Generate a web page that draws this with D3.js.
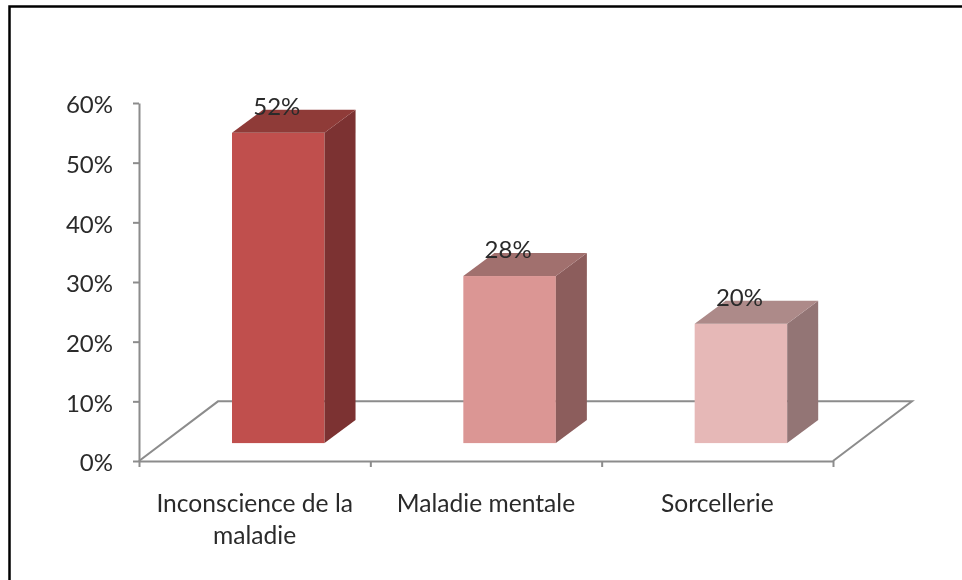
<!DOCTYPE html>
<html>
<head>
<meta charset="utf-8">
<title>Chart</title>
<script src="https://d3js.org/d3.v7.min.js"></script>
<style>
  html, body { margin: 0; padding: 0; background: #fff; }
  svg { display: block; }
  text { font-family: Lato, "Open Sans", sans-serif; fill: #2b2b2b; }
</style>
</head>
<body>
<div id="chart"></div>
<script>
var categories = [["Inconscience de la", "maladie"], ["Maladie mentale"], ["Sorcellerie"]];
var values = [52, 28, 20];
var yTicks = [0, 10, 20, 30, 40, 50, 60];

// bar face colours
var frontColors = ["#c0504d", "#db9694", "#e6b8b7"];
var sideColors = ["#7c3230", "#8c5d5c", "#937475"];
var topColors = ["#8f3b39", "#a16f6e", "#ad8a89"];

var width = 962, height = 580;
var axisColor = "#8c8c8c";

var root = d3.select("#chart").append("svg")
  .attr("width", width)
  .attr("height", height);

// the reference is a soft upscaled image, so everything gets a slight blur
root.append("defs").append("filter")
  .attr("id", "soft")
  .attr("filterUnits", "userSpaceOnUse")
  .attr("x", 0).attr("y", 0).attr("width", width).attr("height", height)
  .append("feGaussianBlur").attr("stdDeviation", 0.5);

var svg = root.append("g").attr("filter", "url(#soft)");

// outer frame, only top and left show in the picture
svg.append("path")
  .attr("d", "M970,6.5H9.5V590")
  .attr("fill", "none")
  .attr("stroke", "#000")
  .attr("stroke-width", 2.5);

var y = d3.scaleLinear().domain([0, 60]).range([461, 103]);
var x = d3.scaleBand().domain(d3.range(values.length)).range([139, 833]);
x.paddingInner(0.6).paddingOuter(0.3);
var edges = d3.scaleLinear().domain([0, values.length]).range([139, 833]);

// 3d offsets
var floorDx = 79, floorDy = y(10) - y(0);
var barDx = 31, barDy = -23;
var barLift = y(3) - y(0);
var barShift = 23.6;

// floor
svg.append("path")
  .attr("d", d3.line()([
    [edges(0), y(0)],
    [edges(0) + floorDx, y(0) + floorDy],
    [edges(3) + floorDx, y(0) + floorDy],
    [edges(3), y(0)]
  ]))
  .attr("fill", "none")
  .attr("stroke", axisColor)
  .attr("stroke-width", 2);

var yAxis = svg.append("g")
  .attr("transform", "translate(139,0)")
  .call(d3.axisLeft(y).tickValues(yTicks).tickFormat(function(d) { return d + "%"; })
    .tickSizeInner(6).tickSizeOuter(0).tickPadding(20));
yAxis.selectAll("path, line").attr("stroke", axisColor).attr("stroke-width", 2);
yAxis.selectAll("text")
  .attr("font-size", 24)
  .attr("font-family", null)
  .attr("fill", "#2b2b2b")
  .attr("y", 2);

var xAxis = svg.append("g")
  .attr("transform", "translate(0,461)")
  .call(d3.axisBottom(edges).tickValues(d3.range(values.length + 1)).tickFormat("")
    .tickSizeInner(6).tickSizeOuter(0));
xAxis.selectAll("path, line").attr("stroke", axisColor).attr("stroke-width", 2);

var bars = svg.selectAll("g.bar")
  .data(values)
  .enter().append("g")
  .attr("class", "bar");

function barLeft(i) { return x(i) + barShift; }

bars.append("rect")
  .attr("x", function(d, i) { return barLeft(i); })
  .attr("y", function(d) { return y(d) + barLift; })
  .attr("width", x.bandwidth())
  .attr("height", function(d) { return y(0) - y(d); })
  .attr("fill", function(d, i) { return frontColors[i]; });

// side face
bars.append("path")
  .attr("d", function(d, i) {
    var r = barLeft(i) + x.bandwidth();
    return d3.line()([
      [r, y(d) + barLift],
      [r + barDx, y(d) + barLift + barDy],
      [r + barDx, y(0) + barLift + barDy],
      [r, y(0) + barLift]
    ]) + "Z";
  })
  .attr("fill", function(d, i) { return sideColors[i]; });

// top face
bars.append("path")
  .attr("d", function(d, i) {
    var l = barLeft(i), r = l + x.bandwidth(), t = y(d) + barLift;
    return d3.line()([
      [l, t],
      [l + barDx, t + barDy],
      [r + barDx, t + barDy],
      [r, t]
    ]) + "Z";
  })
  .attr("fill", function(d, i) { return topColors[i]; });

// value labels
bars.append("text")
  .attr("x", function(d, i) { return barLeft(i) + x.bandwidth() / 2 - 1.5; })
  .attr("y", function(d) { return y(d) + barLift - 18; })
  .attr("text-anchor", "middle")
  .attr("font-size", 24)
  .attr("fill", "#1a1a1a")
  .text(function(d) { return d + "%"; });

// category labels
var cats = svg.selectAll("text.cat")
  .data(categories)
  .enter().append("text")
  .attr("class", "cat")
  .attr("text-anchor", "middle")
  .attr("font-size", 24.6);
cats.selectAll("tspan")
  .data(function(d, i) { return d.map(function(s) { return {s: s, i: i}; }); })
  .enter().append("tspan")
  .attr("x", function(d) { return x(d.i) + x.bandwidth() / 2; })
  .attr("y", function(d, j) { return 512 + j * 32; })
  .text(function(d) { return d.s; });
</script>
</body>
</html>
